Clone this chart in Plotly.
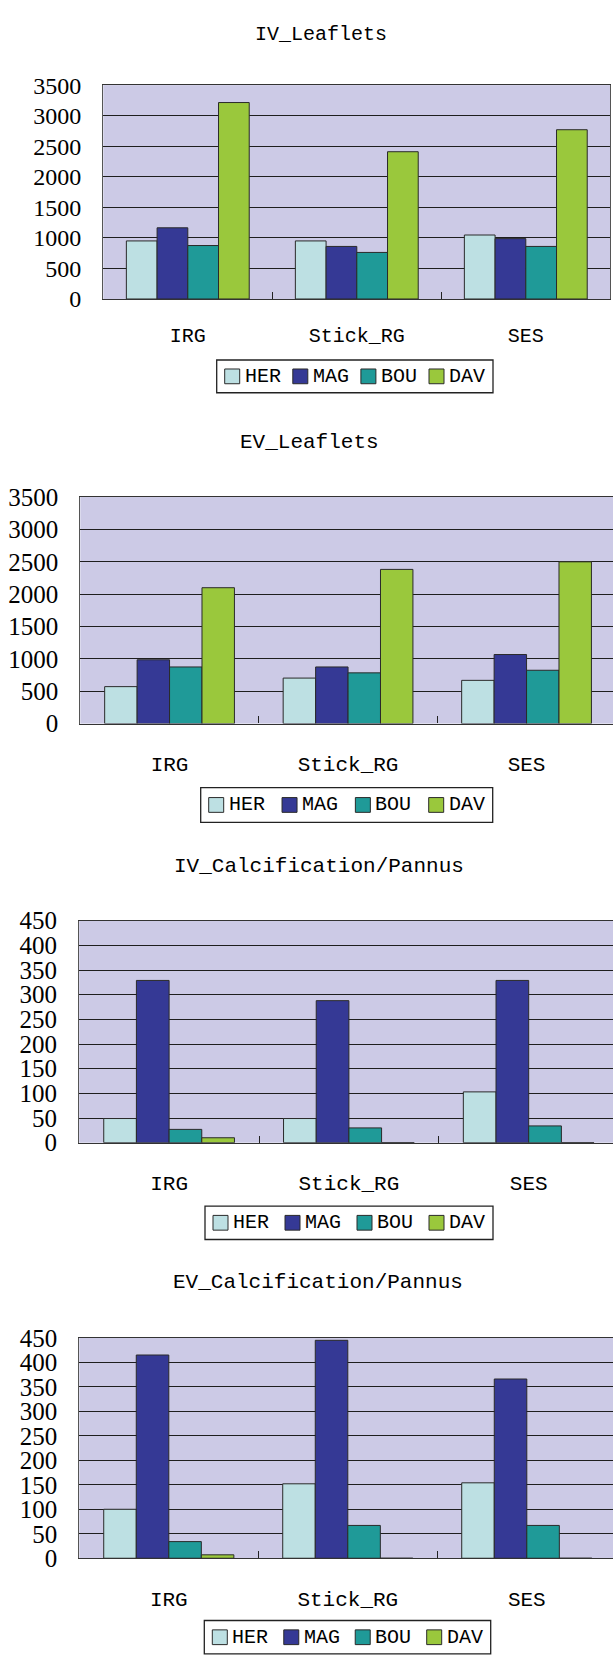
import plotly.graph_objects as go

# Categories, series and colours shared by all four panels
categories = ["IRG", "Stick_RG", "SES"]
series_names = ["HER", "MAG", "BOU", "DAV"]
series_colors = ["#BDE0E3", "#353995", "#1F9A98", "#9AC83C"]

panel_titles = ["IV_Leaflets", "EV_Leaflets",
                "IV_Calcification/Pannus", "EV_Calcification/Pannus"]

leaflet_ticks = [0, 500, 1000, 1500, 2000, 2500, 3000, 3500]
calc_ticks = [0, 50, 100, 150, 200, 250, 300, 350, 400, 450]

# IV_Leaflets
iv_leaf_her = [950, 950, 1047]
iv_leaf_mag = [1165, 860, 988]
iv_leaf_bou = [875, 762, 860]
iv_leaf_dav = [3215, 2410, 2770]

# EV_Leaflets
ev_leaf_her = [571, 703, 668]
ev_leaf_mag = [986, 875, 1067]
ev_leaf_bou = [875, 784, 824]
ev_leaf_dav = [2099, 2382, 2499]

# IV_Calcification/Pannus
iv_calc_her = [49, 49, 103]
iv_calc_mag = [329, 288, 329]
iv_calc_bou = [27, 30, 34]
iv_calc_dav = [10, 0, 0]

# EV_Calcification/Pannus
ev_calc_her = [100, 152, 154]
ev_calc_mag = [415, 445, 366]
ev_calc_bou = [34, 67, 67]
ev_calc_dav = [7, 0, 0]

panel_values = [
    [iv_leaf_her, iv_leaf_mag, iv_leaf_bou, iv_leaf_dav],
    [ev_leaf_her, ev_leaf_mag, ev_leaf_bou, ev_leaf_dav],
    [iv_calc_her, iv_calc_mag, iv_calc_bou, iv_calc_dav],
    [ev_calc_her, ev_calc_mag, ev_calc_bou, ev_calc_dav],
]
panel_ticks = [leaflet_ticks, leaflet_ticks, calc_ticks, calc_ticks]

W, H = 613, 1666

# Pixel geometry of each panel: plot box, category width, title and legend box
geometry = [
    dict(top=73.3, bottom=290.7, left=103.3, catw=169.0, mirror=True,
         title_xy=(320.5, 21.7), leg=(216.7, 352.7, 493.0, 386.0),
         tfs=20, yfs=24, xstand=18),
    dict(top=492.0, bottom=722.3, left=80.3, catw=178.5, mirror=False,
         title_xy=(309, 437), leg=(200.7, 787.3, 492.7, 822.7),
         tfs=21, yfs=25, xstand=21),
    dict(top=922.7, bottom=1148.3, left=79.2, catw=179.8, mirror=False,
         title_xy=(319, 868), leg=(205.0, 1212.7, 493.0, 1246.7),
         tfs=21, yfs=25, xstand=21),
    dict(top=1346.7, bottom=1570.7, left=79.3, catw=179.0, mirror=False,
         title_xy=(318, 1290), leg=(204.3, 1634.0, 490.7, 1668.0),
         tfs=21, yfs=25, xstand=21),
]

MONO = "Liberation Mono"
SERIF = "Liberation Serif"


def px(x):
    return x / W


def py(y):
    return 1 - y / H


fig = go.Figure()
layout = dict(
    width=W, height=H,
    margin=dict(l=0, r=0, t=0, b=0),
    paper_bgcolor="white",
    plot_bgcolor="#CCCAE6",
    barmode="group",
    bargap=0.273,
    bargroupgap=0,
    showlegend=False,
    annotations=[],
    shapes=[],
)

for i, (values, ticks, g) in enumerate(zip(panel_values, panel_ticks, geometry)):
    n = i + 1
    xa = "x" if n == 1 else f"x{n}"
    ya = "y" if n == 1 else f"y{n}"

    for name, color, vals in zip(series_names, series_colors, values):
        fig.add_trace(go.Bar(
            x=categories, y=vals, name=name,
            marker=dict(color=color, line=dict(color="#2a2a2a", width=1)),
            xaxis=xa, yaxis=ya,
            hoverinfo="skip",
        ))

    x0 = g["left"]
    x1 = min(W, g["left"] + 3 * g["catw"])
    span = (x1 - x0) / g["catw"]
    layout["xaxis" if n == 1 else f"xaxis{n}"] = dict(
        domain=[px(x0), px(x1)],
        anchor=ya,
        type="category",
        range=[-0.5, -0.5 + span],
        showgrid=False,
        showline=True, linecolor="#333333", linewidth=1.3, mirror=True,
        ticks="inside", tickson="boundaries", ticklen=7,
        tickcolor="#222222", tickwidth=1.3,
        ticklabelstandoff=g["xstand"],
        tickfont=dict(family=MONO, size=g["tfs"], color="black"),
        fixedrange=True,
    )
    layout["yaxis" if n == 1 else f"yaxis{n}"] = dict(
        domain=[py(g["bottom"]), py(g["top"])],
        anchor=xa,
        range=[0, ticks[-1]],
        tickvals=ticks,
        showgrid=True, gridcolor="#1e1e1e", gridwidth=1.3,
        zeroline=False,
        showline=True, linecolor="#555555", linewidth=1.3, mirror=g["mirror"],
        ticks="", ticklabelstandoff=16,
        tickfont=dict(family=SERIF, size=g["yfs"], color="black"),
        fixedrange=True,
    )

    # Panel title
    layout["annotations"].append(dict(
        text=panel_titles[i], showarrow=False,
        xref="paper", yref="paper",
        x=px(g["title_xy"][0]), y=py(g["title_xy"][1]),
        xanchor="center", yanchor="middle",
        font=dict(family=MONO, size=g["tfs"], color="black"),
    ))

    # Boxed legend row: swatch + label for each series
    lx0, ly0, lx1, ly1 = g["leg"]
    layout["shapes"].append(dict(
        type="rect", xref="paper", yref="paper",
        x0=px(lx0), x1=px(lx1), y0=py(ly1), y1=py(ly0),
        line=dict(color="#222222", width=1.3), fillcolor="white", layer="above",
    ))
    sw, gap, text_w = 15, 4, 37
    pitch = ((lx1 - lx0) - 16 - (sw + gap + text_w)) / 3
    cy = (ly0 + ly1) / 2 if ly1 <= H else (ly0 + 17)
    for k, (name, color) in enumerate(zip(series_names, series_colors)):
        sx = lx0 + 8 + k * pitch
        layout["shapes"].append(dict(
            type="rect", xref="paper", yref="paper",
            x0=px(sx), x1=px(sx + sw), y0=py(cy + sw / 2), y1=py(cy - sw / 2),
            line=dict(color="#2a2a2a", width=1), fillcolor=color, layer="above",
        ))
        layout["annotations"].append(dict(
            text=name, showarrow=False,
            xref="paper", yref="paper",
            x=px(sx + sw + gap - 1), y=py(cy),
            xanchor="left", yanchor="middle",
            font=dict(family=MONO, size=20, color="black"),
        ))

fig.update_layout(**layout)
fig.write_html("out.html")
